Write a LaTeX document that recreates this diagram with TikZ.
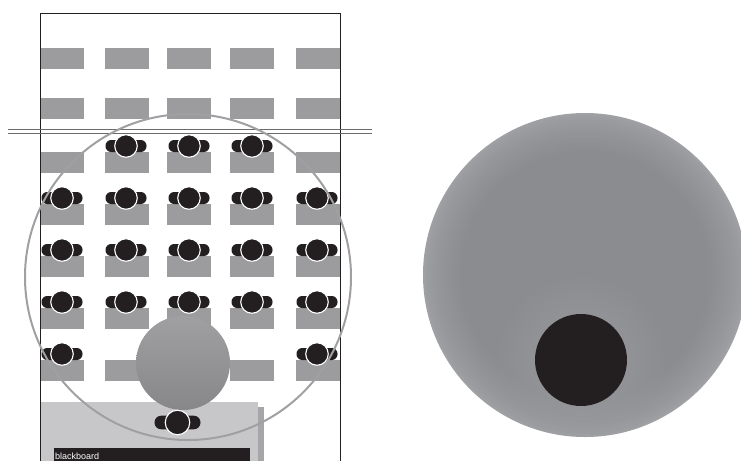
\documentclass[tikz,border=0pt]{standalone}
\usepackage{fontspec}
\setmainfont{Liberation Sans}
\usetikzlibrary{fadings}
\definecolor{deskgray}{HTML}{9C9C9F}
\definecolor{inkblack}{HTML}{231F20}
\definecolor{ringgray}{HTML}{A0A0A2}
\definecolor{podium}{HTML}{C7C7C9}
\definecolor{podshadow}{HTML}{A6A6A9}
\definecolor{discgray}{HTML}{8B8C8F}
\definecolor{discedge}{HTML}{A0A1A4}
\definecolor{halogray}{HTML}{9A9B9E}
\definecolor{smalltop}{HTML}{A0A0A2}
\definecolor{smallbot}{HTML}{87878A}
\tikzfading[name=halofade,inner color=transparent!0,middle color=transparent!50,outer color=transparent!100]
\tikzset{
 x=1pt,y=-1pt,
 desk/.style={fill=deskgray,draw=none},
 personhead/.style={circle,fill=inkblack,draw=white,line width=1.1pt,minimum size=22.5pt,inner sep=0pt},
 shoulder/.style={fill=inkblack,draw=none,rounded corners=5.7pt},
 frameline/.style={draw=inkblack,line width=.85pt},
 doubleline/.style={draw=black!58,line width=.9pt},
}
\newcommand{\Desk}[2]{\fill[desk] (#1,#2) rectangle +(44,21);}
\newcommand{\Person}[2]{%
 \fill[shoulder] (#1-20.5,#2-6) rectangle (#1+20.5,#2+6);
 \node[personhead] at (#1,#2) {};}
\begin{document}
\begin{tikzpicture}
\useasboundingbox (0,0) rectangle (741,461);
\fill[white] (0,0) rectangle (741,461);
% desks
\foreach \dy in {48,98,152,204,256,308,360}
 \foreach \dx in {40,105,167,230,296}
  {\Desk{\dx}{\dy}}
% podium
\fill[podshadow] (258,407) rectangle (264,461);
\fill[podium] (40,402) rectangle (258,461);
\fill[inkblack] (54,448) rectangle (250,461);
\node[anchor=base west,text=white,font=\fontsize{9}{10}\selectfont,inner sep=0pt] (bbtext) at (55,459) {blackboard};
% people
\foreach \py in {198,250,302}
 \foreach \px in {62,126,189,252,317}
  {\Person{\px}{\py}}
\foreach \px in {126,189,252} {\Person{\px}{146}}
\foreach \px in {62,317} {\Person{\px}{354}}
% frame
\draw[frameline] (40,461) -- (40,13) -- (340,13) -- (340,461);
% double line
\draw[doubleline] (8,129) -- (372,129);
\draw[doubleline] (8,133) -- (372,133);
% ring
\draw[ringgray,line width=2pt] (188,277) circle[radius=163];
% small disc
\node[circle,minimum size=94pt,inner sep=0pt,draw=none,top color=smalltop,bottom color=smallbot] (disc) at (183,363) {};
% lectern person
\fill[shoulder,rounded corners=6.7pt] (154.5,415.7) rectangle (200.5,429.3);
\node[personhead,minimum size=24.5pt] (lecturer) at (177.5,422.5) {};
% big disc: concentric bands, light rim to darker middle
\foreach \i in {0,...,24}{
 \pgfmathsetmacro{\ringr}{162-1.6*\i}
 \pgfmathsetmacro{\mixp}{100*(\i/24)^0.7}
 \fill[discgray!\mixp!discedge] (585,275) circle[radius=\ringr];
}
\node[circle,minimum size=2pt,inner sep=0pt] (big) at (585,275) {};
\begin{scope}
\clip (585,275) circle[radius=162];
\fill[halogray,path fading=halofade] (581,360) circle[radius=88];
\end{scope}
\node[circle,minimum size=92pt,inner sep=0pt,fill=inkblack] (core) at (581,360) {};
\end{tikzpicture}
\end{document}
